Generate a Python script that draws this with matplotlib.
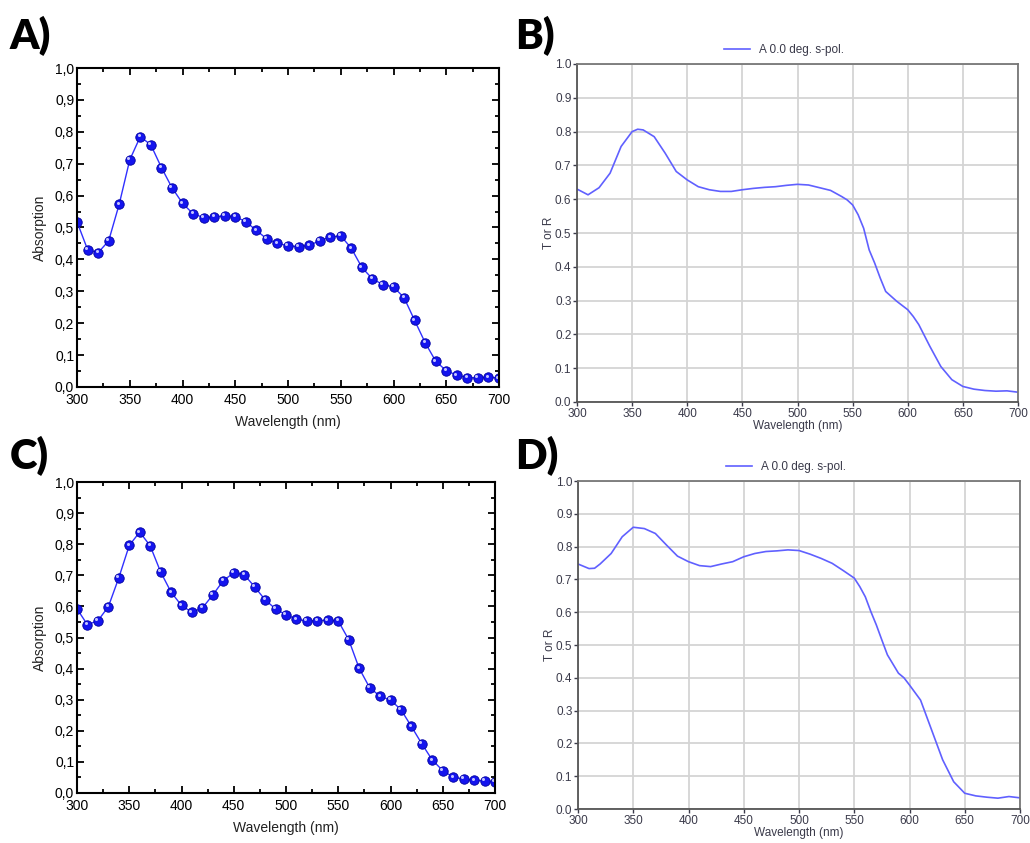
import numpy as np
import matplotlib
matplotlib.use("Agg")
import matplotlib.pyplot as plt
from matplotlib.ticker import MultipleLocator, FuncFormatter
from matplotlib.transforms import offset_copy

plt.rcParams['font.family'] = ['Liberation Sans', 'DejaVu Sans']

# measured absorption (panels A and C), 10 nm steps
wl_meas = list(range(300, 701, 10))
abs_a = [0.518, 0.431, 0.421, 0.458, 0.573, 0.712, 0.785, 0.759, 0.688, 0.625,
         0.576, 0.543, 0.531, 0.533, 0.537, 0.534, 0.518, 0.491, 0.464, 0.450,
         0.443, 0.440, 0.444, 0.458, 0.470, 0.474, 0.435, 0.375, 0.339, 0.321,
         0.314, 0.280, 0.209, 0.139, 0.081, 0.051, 0.037, 0.029, 0.029, 0.031,
         0.028]
abs_c = [0.592, 0.541, 0.554, 0.599, 0.692, 0.796, 0.839, 0.795, 0.711, 0.646,
         0.603, 0.581, 0.595, 0.637, 0.683, 0.708, 0.702, 0.663, 0.621, 0.592,
         0.573, 0.559, 0.553, 0.554, 0.556, 0.553, 0.493, 0.401, 0.339, 0.311,
         0.299, 0.268, 0.214, 0.158, 0.106, 0.072, 0.051, 0.045, 0.041, 0.039,
         0.036]

# simulated spectra (panels B and D)
wl_b = [300, 310, 320, 330, 340, 350, 355, 360, 370, 380, 390, 400, 410, 420,
        430, 440, 450, 460, 470, 480, 490, 500, 510, 520, 530, 540, 545, 550,
        555, 560, 565, 570, 575, 580, 590, 600, 605, 610, 620, 630, 640, 650,
        660, 670, 680, 690, 700]
sim_b = [0.630, 0.613, 0.634, 0.677, 0.756, 0.800, 0.807, 0.805, 0.785, 0.736,
         0.682, 0.657, 0.637, 0.628, 0.623, 0.623, 0.628, 0.632, 0.635, 0.637,
         0.641, 0.644, 0.642, 0.634, 0.626, 0.608, 0.598, 0.583, 0.554, 0.514,
         0.450, 0.411, 0.367, 0.327, 0.298, 0.273, 0.253, 0.229, 0.165, 0.105,
         0.066, 0.046, 0.038, 0.034, 0.032, 0.033, 0.029]
wl_d = [300, 310, 315, 320, 330, 340, 350, 360, 370, 380, 390, 400, 410, 420,
        430, 440, 450, 460, 470, 480, 490, 500, 510, 520, 530, 540, 550, 555,
        560, 565, 570, 575, 580, 590, 595, 600, 610, 620, 630, 640, 650, 660,
        670, 680, 690, 700]
sim_d = [0.747, 0.733, 0.734, 0.747, 0.779, 0.830, 0.859, 0.855, 0.840, 0.805,
         0.771, 0.754, 0.742, 0.739, 0.747, 0.754, 0.769, 0.779, 0.785, 0.787,
         0.790, 0.788, 0.777, 0.764, 0.749, 0.727, 0.704, 0.678, 0.647, 0.602,
         0.561, 0.515, 0.470, 0.414, 0.400, 0.378, 0.332, 0.241, 0.150, 0.083,
         0.048, 0.040, 0.036, 0.033, 0.038, 0.034]

legend_text = "A 0.0 deg. s-pol."

W, H = 1030, 843


def rect(x0, y0, x1, y1):
    return [x0 / W, 1 - y1 / H, (x1 - x0) / W, (y1 - y0) / H]


def comma(v, pos):
    return ("%.1f" % v).replace(".", ",")


def measured_panel(fig, ax, y):
    ax.plot(wl_meas, y, color="#3030ff", lw=1.0, marker="o", ms=6.8,
            markerfacecolor="#1414ee", markeredgecolor="#0000a0", mew=0.6)
    # small off-centre highlight so the dots read as shaded balls
    hl = offset_copy(ax.transData, fig=fig, x=-1.1, y=1.1, units="points")
    ax.plot(wl_meas, y, ls="none", marker="o", ms=2.2, transform=hl,
            markerfacecolor="#c4c4ff", markeredgecolor="none")
    ax.set_xlim(300, 700)
    ax.set_ylim(0, 1.0)
    ax.xaxis.set_major_locator(MultipleLocator(50))
    ax.xaxis.set_minor_locator(MultipleLocator(25))
    ax.yaxis.set_major_locator(MultipleLocator(0.1))
    ax.yaxis.set_minor_locator(MultipleLocator(0.05))
    ax.yaxis.set_major_formatter(FuncFormatter(comma))
    ax.tick_params(which="both", direction="in", top=True, right=True,
                   width=1.3, labelsize=10, pad=2, colors="black")
    ax.tick_params(axis="x", pad=4)
    ax.tick_params(which="major", length=5)
    ax.tick_params(which="minor", length=3)
    for s in ax.spines.values():
        s.set_linewidth(1.5)
    ax.set_xlabel("Wavelength (nm)", fontsize=10, labelpad=6, color="#222222")
    ax.set_ylabel("Absorption", fontsize=10, labelpad=6, color="#222222")


def sim_panel(ax, x, y):
    ax.plot(x, y, color="#6060ff", lw=1.2, label=legend_text)
    ax.set_xlim(300, 700)
    ax.set_ylim(0, 1.0)
    ax.xaxis.set_major_locator(MultipleLocator(50))
    ax.yaxis.set_major_locator(MultipleLocator(0.1))
    ax.yaxis.set_major_formatter(FuncFormatter(lambda v, p: "%.1f" % v))
    ax.grid(True, color="#d4d4d4", lw=1.3)
    ax.set_axisbelow(True)
    ax.tick_params(direction="out", length=3, width=1, labelsize=8.5, pad=1,
                   colors="#3a3a4a")
    ax.spines["left"].set_color("#555555")
    ax.spines["bottom"].set_color("#555555")
    ax.spines["top"].set_color("#777777")
    ax.spines["right"].set_color("#777777")
    for s in ax.spines.values():
        s.set_linewidth(1.3)
    ax.set_xlabel("Wavelength (nm)", fontsize=8.5, labelpad=0, color="#3a3a4a")
    ax.set_ylabel("T or R", fontsize=8.5, labelpad=0, color="#3a3a4a")
    ax.legend(loc="lower center", bbox_to_anchor=(0.47, 1.0), frameon=False,
              fontsize=8.5, handlelength=2.2, borderaxespad=0.3,
              labelcolor="#3a3a4a")


fig = plt.figure(figsize=(10.3, 8.43), dpi=100)

ax_a = fig.add_axes(rect(77, 68, 499, 387))
measured_panel(fig, ax_a, abs_a)
ax_b = fig.add_axes(rect(577, 64, 1018, 402))
sim_panel(ax_b, wl_b, sim_b)
ax_c = fig.add_axes(rect(77, 482, 495, 793))
measured_panel(fig, ax_c, abs_c)
ax_d = fig.add_axes(rect(578, 481, 1020, 809))
sim_panel(ax_d, wl_d, sim_d)

for lbl, x, y in [("A)", 10, 49), ("B)", 515, 49), ("C)", 10, 469), ("D)", 515, 469)]:
    fig.text(x / W, 1 - y / H, lbl, fontsize=30, fontweight="heavy",
             family=["Lato", "DejaVu Sans"], va="baseline", ha="left")

fig.savefig("out.png", dpi=100)
